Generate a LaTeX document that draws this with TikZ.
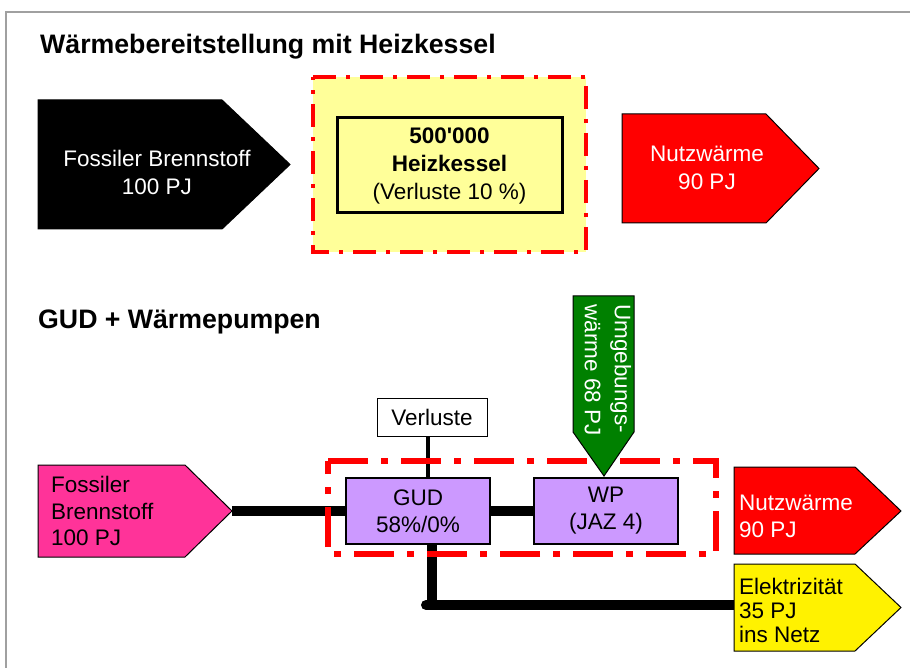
\documentclass[tikz,border=0pt]{standalone}
\usepackage{fontspec}
\setmainfont{Liberation Sans}
\usetikzlibrary{calc}
\definecolor{pinkf}{HTML}{FF3399}
\definecolor{purf}{HTML}{CC99FF}
\definecolor{greenf}{HTML}{008000}
\definecolor{lyel}{HTML}{FFFF99}
\definecolor{framegray}{HTML}{A0A0A0}
\pgfdeclarelayer{lines}
\pgfdeclarelayer{dash}
\pgfsetlayers{lines,dash,main}
\tikzset{
  txt/.style={inner sep=0pt, font=\fontsize{22.5}{27}\selectfont},
  titletxt/.style={inner sep=0pt, font=\fontsize{26.7}{30}\selectfont\bfseries, anchor=base west},
  arrowshape/.style={draw=black, line width=1pt, line join=miter},
  dashboxa/.style={draw=red, line width=4pt, dash pattern=on 23pt off 10pt on 4pt off 10pt},
  dashboxb/.style={draw=red, line width=6pt, dash pattern=on 40pt off 13pt on 7pt off 13pt},
  flow/.style={line width=10pt, draw=black},
  unitbox/.style={txt, draw=black, line width=1.5pt, fill=purf, align=center,
    minimum width=144pt, minimum height=66pt},
}
\begin{document}
\begin{tikzpicture}[x=1pt,y=-1pt]
\useasboundingbox (0,0) rectangle (910,668);
% frame
\draw[framegray, line width=2pt] (5.5,668) -- (5.5,12.5) -- (910,12.5);

% titles
\node[titletxt] (t1) at (40,54) {Wärmebereitstellung mit Heizkessel};
\node[titletxt] (t2) at (38,328) {GUD + Wärmepumpen};

% ---------- upper part ----------
\fill[arrowshape, fill=black] (38,100) -- (222,100) -- (290,164.5) -- (222,229) -- (38,229) -- cycle;
\node[txt, white, align=center, font=\fontsize{22.5}{28}\selectfont] (fb1) at (157,172) {Fossiler Brennstoff\\100 PJ};

\fill[lyel] (313,77) rectangle (586,252);
\draw[dashboxa] (313,77) -- (586,77) -- (586,252) -- (313,252) -- cycle;
\node[txt, draw=black, line width=3pt, align=center, minimum width=225pt, minimum height=95pt,
      font=\fontsize{22.5}{28}\selectfont] (hk) at (449.5,165.5)
  {\textbf{500\textquotesingle000}\\\textbf{Heizkessel}\\(Verluste 10 \%)};

\filldraw[arrowshape, fill=red] (622,114) -- (766,114) -- (819,168.5) -- (766,223) -- (622,223) -- cycle;
\node[txt, white, align=center, font=\fontsize{22.5}{28}\selectfont] (nw1) at (707,168) {Nutzwärme\\90 PJ};

% ---------- lower part ----------
\filldraw[arrowshape, fill=pinkf] (38,465) -- (185,465) -- (232,511) -- (185,557) -- (38,557) -- cycle;
\coordinate (pinktip) at (232,511);
\node[txt, anchor=west, align=left, font=\fontsize{22.5}{26.5}\selectfont] (fb2) at (51,511) {Fossiler\\Brennstoff\\100 PJ};

\node[unitbox] (gud) at (418,511) {GUD\\58\%/0\%};
\node[unitbox] (wp) at (606,511) {WP\\(JAZ 4)};
\node[txt, draw=black, line width=1pt, fill=white, minimum width=110pt, minimum height=38pt] (verl) at (432,417) {Verluste};

\filldraw[arrowshape, fill=greenf] (573,296) -- (634,296) -- (634,432) -- (604,476) -- (573,432) -- cycle;
\node[txt, white, rotate=-90, align=left, font=\fontsize{22.5}{30}\selectfont] (ug) at (608,370) {Umgebungs-\\wärme 68 PJ};

\filldraw[arrowshape, fill=red] (734,467) -- (855,467) -- (901,511) -- (855,554) -- (734,554) -- cycle;
\node[txt, white, anchor=west, align=left] (nw2) at (739,516) {Nutzwärme\\90 PJ};

\filldraw[arrowshape, fill=yellow] (734,564) -- (855,564) -- (901,607.5) -- (855,651) -- (734,651) -- cycle;
\coordinate (elecin) at (734,605);
\node[txt, anchor=west, align=left, font=\fontsize{22.5}{24}\selectfont] (el) at (739,610) {Elektrizität\\35 PJ\\ins Netz};

\coordinate (jn) at (432,605);
\coordinate (jnl) at (426,605);

\begin{pgfonlayer}{lines}
  \draw[flow] (pinktip) -- (gud.west);
  \draw[flow] (gud.east) -- (wp.west);
  \draw[line width=3.5pt] ([xshift=-4pt]verl.south) -- ([xshift=-4pt]verl.south |- gud.north);
  \draw[flow] (gud.south -| jn) -- (jn);
  \draw[flow, line cap=round] (jnl) -- (elecin);
\end{pgfonlayer}
\begin{pgfonlayer}{dash}
  \draw[dashboxb] (328,461) -- (716,461) -- (716,554) -- (328,554) -- cycle;
\end{pgfonlayer}
\end{tikzpicture}
\end{document}
